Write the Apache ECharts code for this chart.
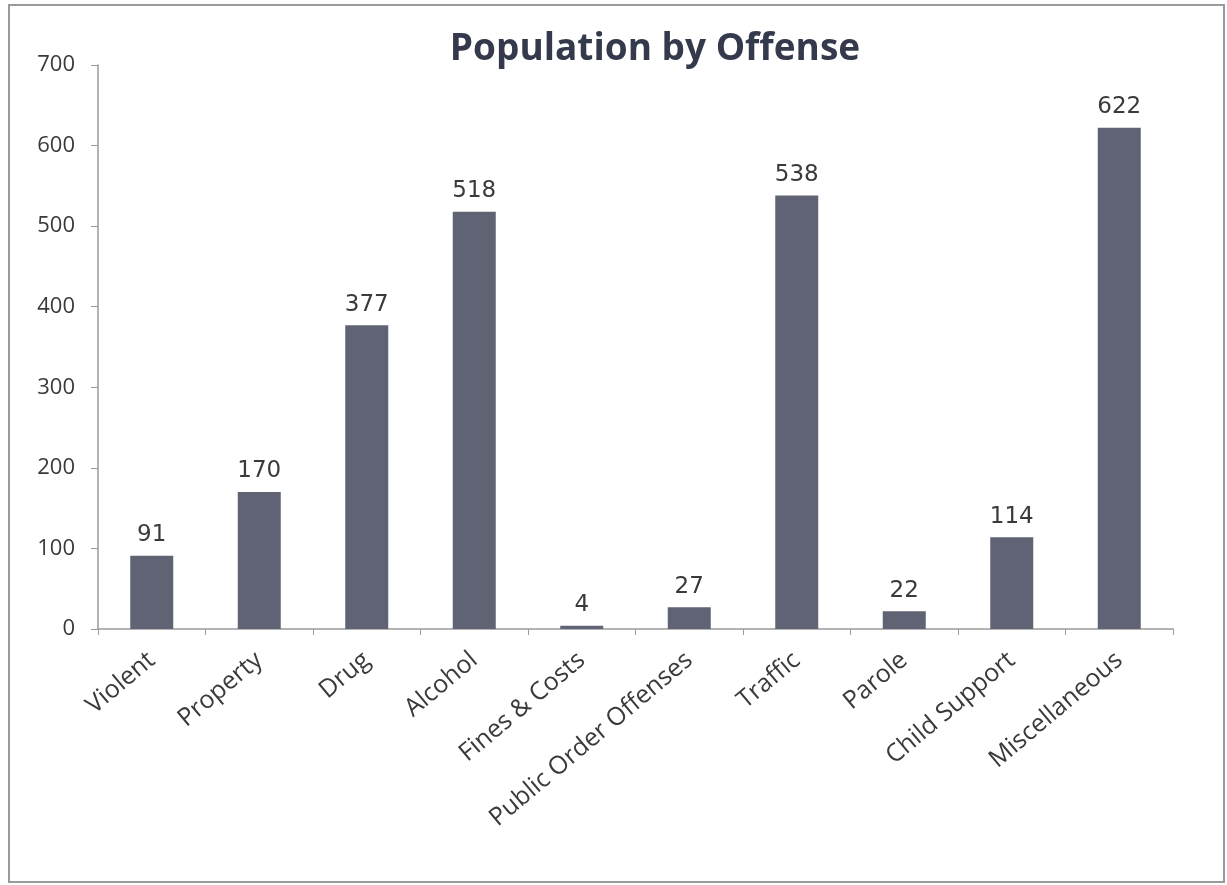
<!DOCTYPE html>
<html>
<head>
<meta charset="utf-8">
<script src="https://cdn.jsdelivr.net/npm/echarts@6/dist/echarts.min.js"></script>
<style>
html,body{margin:0;padding:0;background:#fff;}
#chart{width:1227px;height:885px;}
</style>
</head>
<body>
<div id="chart"></div>
<script>
const categories = ['Violent','Property','Drug','Alcohol','Fines & Costs','Public Order Offenses','Traffic','Parole','Child Support','Miscellaneous'];
const population = [91,170,377,518,4,27,538,22,114,622];
const yTicks = {min:0, max:700, interval:100};

const chart = echarts.init(document.getElementById('chart'));
chart.setOption({
  backgroundColor:'#fff',
  animation:false,
  title:{
    text:'Population by Offense',
    left:650, top:26, textAlign:'center',
    textStyle:{fontFamily:'Open Sans', fontWeight:'bold', fontSize:37, color:'#343a4c'}
  },
  graphic:[{
    type:'rect', shape:{x:9,y:5,width:1215,height:877},
    style:{fill:'none', stroke:'#9a9a9a', lineWidth:2}, silent:true
  }],
  grid:{left:98, right:54, top:65, bottom:256},
  xAxis:{
    type:'category', data:categories,
    axisLine:{lineStyle:{color:'#9a9a9a', width:1.5}},
    axisTick:{show:true, length:6, lineStyle:{color:'#9a9a9a'}},
    axisLabel:{rotate:40, interval:0, margin:28, fontFamily:'Open Sans', fontSize:25, color:'#3a3a3a'}
  },
  yAxis:{
    type:'value', min:yTicks.min, max:yTicks.max, interval:yTicks.interval,
    axisLine:{show:true, lineStyle:{color:'#9a9a9a', width:1.5}},
    axisTick:{show:true, length:7, lineStyle:{color:'#9a9a9a'}},
    splitLine:{show:false},
    axisLabel:{margin:23, fontFamily:'Open Sans', fontSize:22, color:'#3a3a3a'}
  },
  series:[{
    type:'bar', data:population, barWidth:43,
    itemStyle:{color:'#5f6373'},
    label:{show:true, position:'top', distance:9, fontFamily:'DejaVu Sans', fontSize:23, color:'#3a3a3a'}
  }]
});
</script>
</body>
</html>
